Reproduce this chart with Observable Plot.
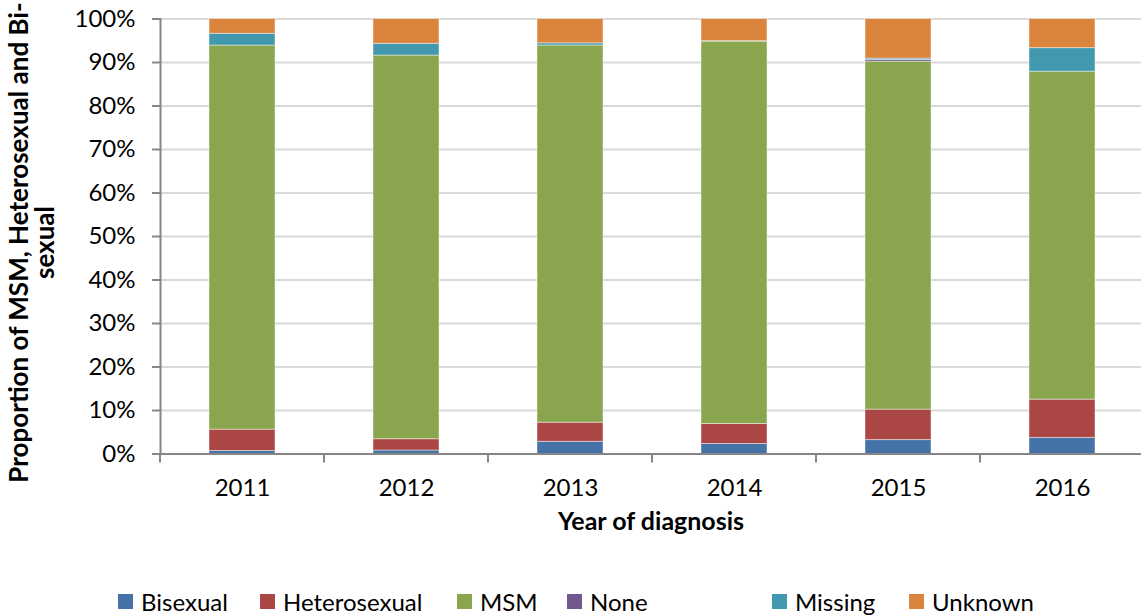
<!DOCTYPE html>
<html>
<head>
<meta charset="utf-8">
<script src="https://cdn.jsdelivr.net/npm/d3@7"></script>
<script src="https://cdn.jsdelivr.net/npm/@observablehq/plot@0.6"></script>
<style>
  html, body { margin: 0; padding: 0; background: #fff; }
  #wrap { position: relative; width: 1141px; height: 616px; overflow: hidden; font-family: Lato, "Open Sans", sans-serif; }
  #legend { position: absolute; left: 0; top: 587px; width: 1141px; height: 28px; font-size: 24px; color: #000; }
  .item { position: absolute; top: 0; display: flex; align-items: center; height: 28px; white-space: nowrap; }
  .sw { width: 15px; height: 15px; margin-right: 8px; display: inline-block; }
</style>
</head>
<body>
<div id="wrap"><div id="chart"></div><div id="legend"></div></div>
<script>
const years = ["2011", "2012", "2013", "2014", "2015", "2016"];
const categories = ["Bisexual", "Heterosexual", "MSM", "None", "Missing", "Unknown"];
const colors = ["#4572A7", "#AA4643", "#89A54E", "#71588F", "#4198AF", "#DB843D"];
const bisexual     = [0.7, 0.8, 2.8, 2.3, 3.2, 3.7];
const heterosexual = [4.9, 2.6, 4.4, 4.6, 7.0, 8.8];
const msm          = [88.3, 88.2, 86.7, 87.9, 80.0, 75.4];
const none         = [0.0, 0.0, 0.0, 0.0, 0.4, 0.0];
const missing      = [2.7, 2.7, 0.5, 0.1, 0.3, 5.4];
const unknown      = [3.4, 5.7, 5.6, 5.1, 9.1, 6.7];
const yTicks = [0, 0.1, 0.2, 0.3, 0.4, 0.5, 0.6, 0.7, 0.8, 0.9, 1.0];

const series = [bisexual, heterosexual, msm, none, missing, unknown];
const rows = [];
years.forEach((yr, i) => {
  const total = series.reduce((s, arr) => s + arr[i], 0);
  categories.forEach((c, j) => rows.push({year: yr, category: c, value: series[j][i] / total}));
});

const bandTicks = (index, scales, values, dims) => {
  const x = scales.x;
  const step = x.step(), bw = x.bandwidth();
  const g = d3.create("svg:g").attr("stroke", "#868686").attr("stroke-width", 2);
  const y0 = dims.height - dims.marginBottom;
  const xs = years.map(yr => x(yr) + bw / 2 - step / 2);
  xs.push(x(years[years.length - 1]) + bw / 2 + step / 2);
  xs.forEach(px => g.append("line").attr("x1", px).attr("x2", px).attr("y1", y0).attr("y2", y0 + 9));
  return g.node();
};

const chart = Plot.plot({
  width: 1141,
  height: 580,
  marginLeft: 160,
  marginRight: 0,
  marginTop: 18.5,
  marginBottom: 126.5,
  style: {fontFamily: "Lato, 'Open Sans', sans-serif", fontSize: "24px", color: "#000", background: "#fff", maxWidth: "none", overflow: "visible"},
  x: {domain: years, range: [160, 1144], paddingInner: 0.6, paddingOuter: 0.3, label: null},
  y: {domain: [0, 1], label: null},
  color: {domain: categories, range: colors},
  marks: [
    Plot.gridY(yTicks, {stroke: "#d9d9d9", strokeOpacity: 1, strokeWidth: 2}),
    Plot.barY(rows, Plot.stackY({x: "year", y: "value", fill: "category", order: categories, stroke: "#fff", strokeOpacity: 0.45, strokeWidth: 1})),
    Plot.axisY(yTicks, {tickFormat: d3.format(".0%"), tickSize: 8, tickPadding: 17, stroke: "#868686", strokeWidth: 2, fontSize: 24, fill: "#000", label: null}),
    Plot.axisX({tickSize: 0, tickPadding: 25, fontSize: 24, fill: "#000", label: null}),
    Plot.frame({anchor: "left", stroke: "#868686", strokeWidth: 2}),
    Plot.frame({anchor: "bottom", stroke: "#868686", strokeWidth: 2}),
    bandTicks,
    Plot.text(["Year of diagnosis"], {frameAnchor: "bottom", dy: 76, fontWeight: "bold", fontSize: 25, fill: "#000"}),
    Plot.text(["Proportion of MSM, Heterosexual and Bi-\nsexual"], {frameAnchor: "left", textAnchor: "middle", dx: -128, dy: 6, rotate: -90, fontWeight: "bold", fontSize: 26, lineHeight: 1.0, fill: "#000"})
  ]
});
document.getElementById("chart").appendChild(chart);

const legendX = [118, 260, 457, 567, 772, 909];
const legend = document.getElementById("legend");
categories.forEach((c, i) => {
  const it = document.createElement("div");
  it.className = "item";
  it.style.left = legendX[i] + "px";
  it.innerHTML = `<span class="sw" style="background:${colors[i]}"></span><span>${c}</span>`;
  legend.appendChild(it);
});
</script>
</body>
</html>
